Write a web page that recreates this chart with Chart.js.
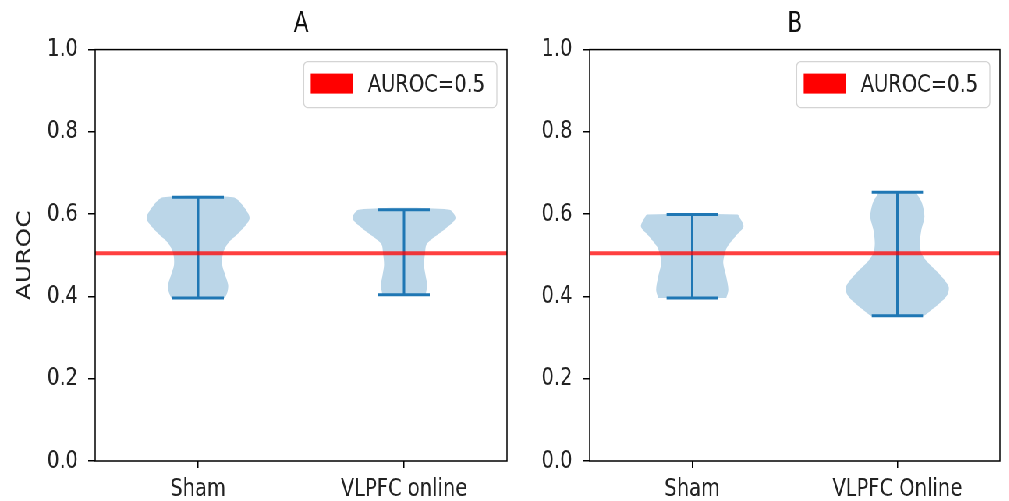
<!DOCTYPE html>
<html>
<head>
<meta charset="utf-8">
<script src="https://cdn.jsdelivr.net/npm/chart.js@4.4.0/dist/chart.umd.min.js"></script>
<style>
  html, body { margin: 0; padding: 0; background: #fff; overflow: hidden; }
  /* the reference is squeezed horizontally, so draw wide and scale down */
  #wrap { position: relative; width: 1294px; height: 501px; transform: scaleX(0.78); transform-origin: 0 0; }
  #wrap canvas { position: absolute; top: 0; }
</style>
</head>
<body>
<div id="wrap">
  <canvas id="chartA" width="680" height="501" style="left:0;width:680px;height:501px"></canvas>
  <canvas id="chartB" width="614" height="501" style="left:680px;width:614px;height:501px"></canvas>
</div>
<script>
// categories / positions
const positions = [1, 2];
const categoriesA = ['Sham', 'VLPFC online'];
const categoriesB = ['Sham', 'VLPFC Online'];
const yTicks = [0, 0.2, 0.4, 0.6, 0.8, 1.0];
const chanceLevel = 0.505;

// violin profiles: AUROC level and half width (x units)
const shamA_y = [0.396, 0.41, 0.428, 0.453, 0.477, 0.505, 0.530, 0.558, 0.590, 0.623, 0.641];
const shamA_w = [0.13, 0.142, 0.146, 0.131, 0.117, 0.121, 0.146, 0.204, 0.25, 0.214, 0.17];

const vlpfcA_y = [0.404, 0.428, 0.453, 0.477, 0.505, 0.526, 0.542, 0.566, 0.590, 0.611];
const vlpfcA_w = [0.105, 0.112, 0.104, 0.097, 0.102, 0.109, 0.141, 0.204, 0.25, 0.22];

const shamB_y = [0.396, 0.416, 0.448, 0.481, 0.505, 0.521, 0.546, 0.570, 0.594, 0.599];
const shamB_w = [0.166, 0.176, 0.166, 0.151, 0.159, 0.171, 0.21, 0.25, 0.229, 0.22];

const vlpfcB_y = [0.353, 0.363, 0.384, 0.404, 0.424, 0.457, 0.481, 0.505, 0.530, 0.562, 0.594, 0.627, 0.647, 0.653];
const vlpfcB_w = [0.13, 0.156, 0.207, 0.244, 0.25, 0.2, 0.151, 0.117, 0.11, 0.117, 0.132, 0.12, 0.098, 0.09];

const BLUE = '#1f77b4';
const FONT = '"DejaVu Sans", sans-serif';
Chart.defaults.font.family = FONT;
Chart.defaults.color = '#222';

// closed outline: up the right side, down the left side
function violinOutline(pos, ys, ws) {
  const right = ys.map((y, i) => ({ x: pos + ws[i], y: y }));
  const left = ys.map((y, i) => ({ x: pos - ws[i], y: y })).reverse();
  return right.concat(left);
}

function violinDatasets(pos, ys, ws) {
  const lo = ys[0], hi = ys[ys.length - 1];
  const line = { type: 'line', borderColor: BLUE, borderWidth: 3, pointRadius: 0, fill: false, order: 1 };
  return [
    {
      type: 'line',
      data: violinOutline(pos, ys, ws),
      backgroundColor: 'rgba(31, 119, 180, 0.3)',
      borderWidth: 0,
      pointRadius: 0,
      tension: 0.3,
      fill: 'shape',
      order: 2
    },
    Object.assign({ data: [{ x: pos, y: lo }, { x: pos, y: hi }] }, line),
    Object.assign({ data: [{ x: pos - 0.125, y: lo }, { x: pos + 0.125, y: lo }] }, line),
    Object.assign({ data: [{ x: pos - 0.125, y: hi }, { x: pos + 0.125, y: hi }] }, line)
  ];
}

// full box around the axes
const framePlugin = {
  id: 'frame',
  afterDatasetsDraw(chart) {
    const { ctx, chartArea: a } = chart;
    ctx.save();
    ctx.strokeStyle = '#000';
    ctx.lineWidth = 1.5;
    ctx.strokeRect(a.left, a.top, a.width, a.height);
    ctx.restore();
  }
};

// matplotlib style legend in the upper right corner
const legendBox = {
  id: 'legendBox',
  afterDraw(chart) {
    const ds = chart.data.datasets.find(d => d.label);
    if (!ds) return;
    const { ctx, chartArea: a } = chart;
    ctx.save();
    ctx.font = '25px ' + FONT;
    const tw = ctx.measureText(ds.label).width;
    const w = 9 + 54 + 19 + tw + 15, h = 46;
    const x = a.right - 13 - w, y = a.top + 12;
    ctx.beginPath();
    ctx.roundRect(x, y, w, h, 5);
    ctx.fillStyle = 'rgba(255, 255, 255, 0.8)';
    ctx.fill();
    ctx.strokeStyle = '#d4d4d4';
    ctx.lineWidth = 1.3;
    ctx.stroke();
    ctx.fillStyle = '#ff0000';
    ctx.fillRect(x + 9, y + 12, 54, 20);
    ctx.fillStyle = '#222';
    ctx.textBaseline = 'middle';
    ctx.fillText(ds.label, x + 82, y + h / 2 + 1);
    ctx.restore();
  }
};

function createViolinChart(id, title, categories, violins, yWidth, padRight, yTitle) {
  const ctx = document.getElementById(id);
  let datasets = [{
    type: 'line',
    label: 'AUROC=0.5',
    data: [{ x: 0.5, y: chanceLevel }, { x: 2.5, y: chanceLevel }],
    borderColor: 'rgba(255, 0, 0, 0.75)',
    borderWidth: 4,
    pointRadius: 0,
    fill: false,
    order: 0
  }];
  violins.forEach((v, i) => {
    datasets = datasets.concat(violinDatasets(positions[i], v[0], v[1]));
  });

  return new Chart(ctx, {
    type: 'line',
    data: { datasets: datasets },
    plugins: [framePlugin, legendBox],
    options: {
      responsive: false,
      animation: false,
      layout: { padding: { left: 0, right: padRight, top: 0, bottom: 0 } },
      plugins: {
        legend: { display: false },
        tooltip: { enabled: false },
        title: {
          display: true,
          text: title,
          fullSize: false,
          color: '#111',
          font: { size: 28, weight: 'normal', lineHeight: 1.2 },
          padding: { top: 8, bottom: 8 }
        }
      },
      scales: {
        x: {
          type: 'linear',
          min: 0.5,
          max: 2.5,
          afterBuildTicks: s => { s.ticks = positions.map(v => ({ value: v })); },
          afterFit: s => { s.height = 40; },
          border: { display: false },
          grid: { drawOnChartArea: false, drawTicks: true, tickLength: 7, color: '#000', lineWidth: 1.5 },
          ticks: {
            callback: (v, i) => categories[i],
            font: { size: 25 },
            padding: 6,
            maxRotation: 0
          }
        },
        y: {
          min: 0,
          max: 1,
          afterBuildTicks: s => { s.ticks = yTicks.map(v => ({ value: v })); },
          afterFit: s => { s.width = yWidth; },
          border: { display: false },
          grid: { drawOnChartArea: false, drawTicks: true, tickLength: 9, color: '#000', lineWidth: 1.5 },
          ticks: {
            callback: v => v.toFixed(1),
            font: { size: 25 },
            padding: 13
          },
          title: {
            display: !!yTitle,
            text: yTitle,
            font: { size: 25 },
            padding: { top: 17, bottom: 0 }
          }
        }
      }
    }
  });
}

createViolinChart('chartA', 'A', categoriesA,
  [[shamA_y, shamA_w], [vlpfcA_y, vlpfcA_w]], 122, 30, 'AUROC');
createViolinChart('chartB', 'B', categoriesB,
  [[shamB_y, shamB_w], [vlpfcB_y, vlpfcB_w]], 76, 12, '');
</script>
</body>
</html>
